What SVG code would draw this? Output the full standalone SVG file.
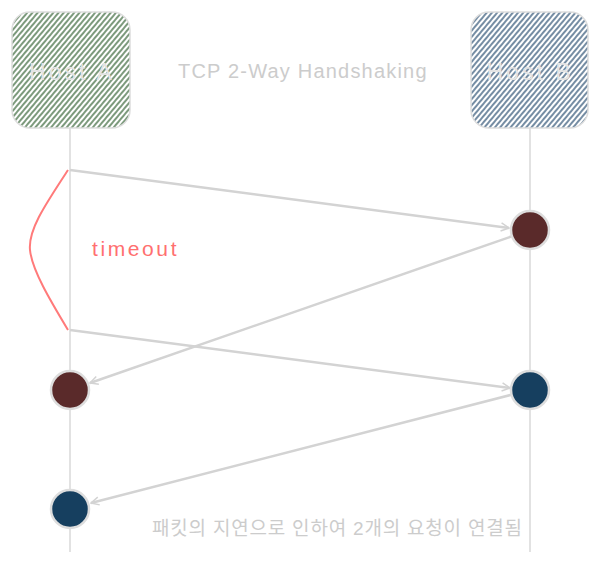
<svg xmlns="http://www.w3.org/2000/svg" width="600" height="563" viewBox="0 0 600 563">
<style>
.life{stroke:#d8d8d8;stroke-width:1.5;fill:none}
.msg{stroke:#d3d3d3;stroke-width:2.5;fill:none}
.lbl{font-family:"Liberation Sans",Arial,sans-serif;fill:#e4e4e4;font-size:23px;text-anchor:middle}
.note{font-family:"Liberation Sans","Noto Sans CJK KR",sans-serif;fill:#cccccc;font-size:19px}
.act{stroke:#dddddd;stroke-width:2.5}
</style>
<defs>
<pattern id="hg" width="4" height="4" patternUnits="userSpaceOnUse" patternTransform="rotate(40)">
<line x1="1" y1="0" x2="1" y2="4" stroke="#356335" stroke-width="1.3"/>
</pattern>
<pattern id="hb" width="4" height="4" patternUnits="userSpaceOnUse" patternTransform="rotate(40)">
<line x1="1" y1="0" x2="1" y2="4" stroke="#2a4f72" stroke-width="1.3"/>
</pattern>
<marker id="ah" markerWidth="10" markerHeight="10" refX="9" refY="5" orient="auto" markerUnits="userSpaceOnUse">
<path d="M1,1 L9,5 L1,9" fill="none" stroke="#d3d3d3" stroke-width="1.5"/>
</marker>
</defs>
<rect width="600" height="563" fill="#ffffff"/>
<g id="lifelines">
<line class="life" x1="70" y1="128" x2="70" y2="552"/>
<line class="life" x1="530" y1="128" x2="530" y2="552"/>
</g>
<g id="hostA">
<rect x="12" y="12" width="118" height="116" rx="18" fill="url(#hg)" stroke="#dddddd" stroke-width="1.5"/>
<text class="lbl" x="72" y="80" letter-spacing="3">Host A</text>
</g>
<g id="hostB">
<rect x="471" y="12" width="117" height="116" rx="18" fill="url(#hb)" stroke="#dddddd" stroke-width="1.5"/>
<text class="lbl" x="530" y="80" letter-spacing="3">Host B</text>
</g>
<g id="title">
<text x="178" y="78" font-family="Liberation Sans,sans-serif" font-size="20" letter-spacing="1.2" fill="#cccccc">TCP 2-Way Handshaking</text>
</g>
<g id="connectors">
<line class="msg" x1="70" y1="170" x2="509" y2="228" marker-end="url(#ah)" stroke-width="3"/>
<line class="msg" x1="530" y1="230" x2="90" y2="383" marker-end="url(#ah)"/>
<line class="msg" x1="70" y1="330" x2="510" y2="388" marker-end="url(#ah)"/>
<line class="msg" x1="530" y1="390" x2="91" y2="503" marker-end="url(#ah)"/>
</g>
<g id="timeout">
<path d="M68,170 C45,205 28,230 30,250 C32,270 50,300 68,330" fill="none" stroke="#ff7a7a" stroke-width="2"/>
<text x="92" y="256" font-family="Liberation Sans,sans-serif" font-size="21" letter-spacing="2.6" fill="#ff7070">timeout</text>
</g>
<g id="b1"><circle class="act" cx="530" cy="230" r="19" fill="#5a2a2a"/></g>
<g id="a1"><circle class="act" cx="70" cy="390" r="19" fill="#5a2a2a"/></g>
<g id="b2"><circle class="act" cx="530" cy="390" r="19" fill="#163f5f"/></g>
<g id="a2"><circle class="act" cx="70" cy="509" r="19" fill="#163f5f"/></g>
<g id="note">
<text class="note" x="152" y="535" letter-spacing="0.8">패킷의 지연으로 인하여 2개의 요청이 연결됨</text>
</g>
</svg>
